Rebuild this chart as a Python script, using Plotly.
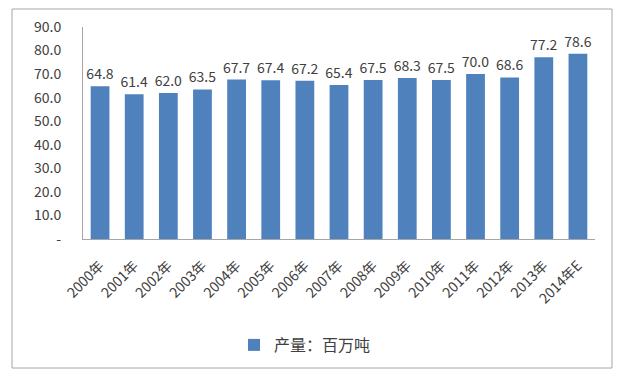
import plotly.graph_objects as go

categories = ["2000年", "2001年", "2002年", "2003年", "2004年", "2005年", "2006年", "2007年",
              "2008年", "2009年", "2010年", "2011年", "2012年", "2013年", "2014年E"]
values = [64.8, 61.4, 62.0, 63.5, 67.7, 67.4, 67.2, 65.4, 67.5, 68.3, 67.5, 70.0, 68.6, 77.2, 78.6]
series_name = "产量：百万吨"
tick_vals = [0, 10, 20, 30, 40, 50, 60, 70, 80, 90]
tick_text = ["-", "10.0", "20.0", "30.0", "40.0", "50.0", "60.0", "70.0", "80.0", "90.0"]

FONT = "Noto Sans CJK SC, Open Sans, sans-serif"

fig = go.Figure()
fig.add_trace(go.Bar(
    x=categories, y=values, name=series_name,
    marker=dict(color="#4F81BD", line=dict(width=0)),
    text=[f"{v:.1f}" for v in values], textposition="outside",
    constraintext="none",
    textfont=dict(size=14, color="#404040", family=FONT),
    cliponaxis=False,
))

L, R, T, B = 83, 30, 27, 139
W, H = 625, 378
pw, ph = W - L - R, H - T - B

def px_x(x):
    return (x - L) / pw

def px_y(y):
    return (H - B - y) / ph

fig.add_shape(type="rect", xref="paper", yref="paper",
              x0=px_x(12), x1=px_x(612), y0=px_y(368), y1=px_y(9),
              line=dict(color="#A6A6A6", width=1), fillcolor="rgba(0,0,0,0)", layer="below")

fig.update_layout(
    width=W, height=H,
    margin=dict(l=L, r=R, t=T, b=B),
    paper_bgcolor="white", plot_bgcolor="white",
    font=dict(family=FONT, color="#404040"),
    bargap=0.45,
    showlegend=True,
    legend=dict(orientation="h", x=px_x(305), xanchor="center", y=px_y(345), yanchor="middle",
                font=dict(size=16, color="#404040", family=FONT), itemwidth=30),
    xaxis=dict(showgrid=False, showline=True, linecolor="#A6A6A6", linewidth=1,
               tickangle=-45, tickfont=dict(size=14, color="#404040", family=FONT),
               ticks="", ticklabelstandoff=12),
    yaxis=dict(range=[0, 90], tickvals=tick_vals, ticktext=tick_text, showgrid=False,
               showline=True, linecolor="#A6A6A6", linewidth=1, zeroline=False,
               tickfont=dict(size=14, color="#404040", family=FONT), ticks="",
               ticklabelstandoff=18),
)

fig.write_html("out.html", config={"displayModeBar": False},
               post_script="document.body.style.margin='0';")
